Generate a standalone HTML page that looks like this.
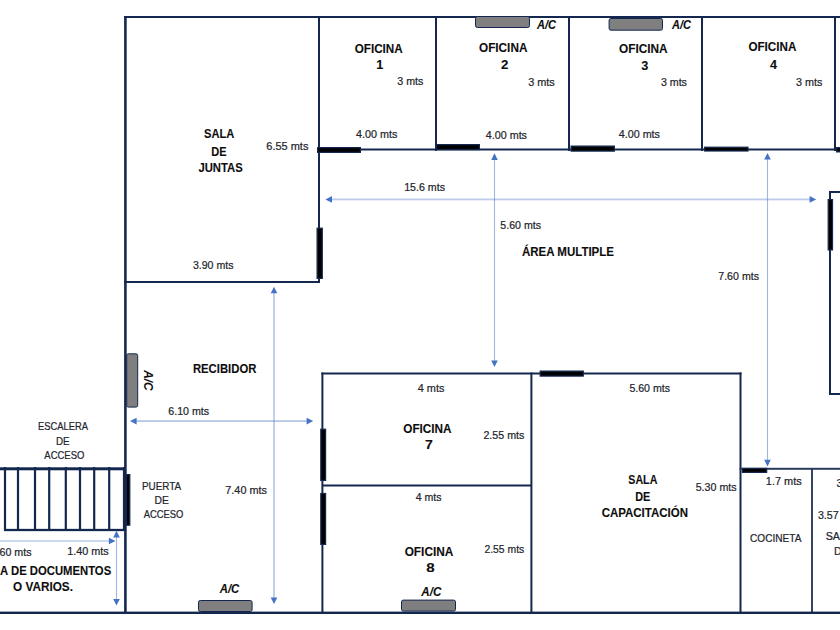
<!DOCTYPE html>
<html><head><meta charset="utf-8"><style>
html,body{margin:0;padding:0;background:#fff;width:840px;height:630px;overflow:hidden}
svg{display:block;position:absolute;left:0;top:0}
text{font-family:"Liberation Sans",sans-serif}
</style></head><body>
<svg width="840" height="630" viewBox="0 0 840 630">
<rect x="0" y="0" width="840" height="630" fill="#fff"/>
<rect x="124.00" y="16.00" width="716.00" height="2.00" fill="#14284f" />
<rect x="124.10" y="16.00" width="2.60" height="598.00" fill="#14284f" />
<rect x="318.00" y="16.00" width="2.00" height="267.00" fill="#14284f" />
<rect x="124.00" y="281.00" width="196.00" height="2.00" fill="#14284f" />
<rect x="435.00" y="16.00" width="2.00" height="135.00" fill="#14284f" />
<rect x="568.00" y="16.00" width="2.00" height="135.00" fill="#14284f" />
<rect x="701.00" y="16.00" width="2.00" height="135.00" fill="#14284f" />
<rect x="834.00" y="16.00" width="2.00" height="135.00" fill="#14284f" />
<rect x="318.00" y="148.50" width="522.00" height="2.00" fill="#14284f" />
<rect x="829.00" y="191.00" width="2.00" height="204.00" fill="#14284f" />
<rect x="829.00" y="191.00" width="11.00" height="2.00" fill="#14284f" />
<rect x="829.00" y="393.00" width="11.00" height="2.00" fill="#14284f" />
<rect x="321.40" y="372.50" width="2.00" height="241.50" fill="#14284f" />
<rect x="321.40" y="372.50" width="420.10" height="2.00" fill="#14284f" />
<rect x="322.00" y="484.50" width="210.00" height="2.00" fill="#14284f" />
<rect x="530.40" y="372.50" width="2.00" height="241.50" fill="#14284f" />
<rect x="739.50" y="372.50" width="2.00" height="241.50" fill="#14284f" />
<rect x="739.60" y="467.80" width="100.40" height="2.00" fill="#2a3b5e" />
<rect x="811.05" y="468.00" width="1.90" height="146.00" fill="#2a3b5e" />
<rect x="0.00" y="611.60" width="840.00" height="2.40" fill="#14284f" />
<rect x="0.00" y="467.30" width="125.00" height="3.00" fill="#14284f" />
<rect x="4.00" y="528.85" width="121.00" height="2.30" fill="#14284f" />
<rect x="122.90" y="467.00" width="2.20" height="64.00" fill="#14284f" />
<rect x="3.90" y="467.00" width="2.20" height="64.00" fill="#14284f" />
<rect x="16.90" y="467.00" width="2.20" height="64.00" fill="#14284f" />
<rect x="33.90" y="467.00" width="2.20" height="64.00" fill="#14284f" />
<rect x="48.10" y="467.00" width="2.20" height="64.00" fill="#14284f" />
<rect x="64.70" y="467.00" width="2.20" height="64.00" fill="#14284f" />
<rect x="78.90" y="467.00" width="2.20" height="64.00" fill="#14284f" />
<rect x="93.10" y="467.00" width="2.20" height="64.00" fill="#14284f" />
<rect x="108.10" y="467.00" width="2.20" height="64.00" fill="#14284f" />
<rect x="317.60" y="147.60" width="42.80" height="4.80" fill="#000" stroke="#14284f" stroke-width="1.2"/>
<rect x="436.60" y="144.60" width="42.80" height="5.00" fill="#000" stroke="#14284f" stroke-width="1.2"/>
<rect x="571.10" y="146.10" width="43.30" height="5.00" fill="#000" stroke="#14284f" stroke-width="1.2"/>
<rect x="704.60" y="147.20" width="43.40" height="3.80" fill="#000" stroke="#14284f" stroke-width="1.2"/>
<rect x="836.60" y="147.60" width="4.80" height="4.30" fill="#000" stroke="#14284f" stroke-width="1.2"/>
<rect x="317.10" y="228.20" width="5.20" height="50.20" fill="#000" stroke="#14284f" stroke-width="1.2"/>
<rect x="828.20" y="199.60" width="4.30" height="50.30" fill="#000" stroke="#14284f" stroke-width="1.2"/>
<rect x="320.80" y="429.20" width="4.80" height="51.20" fill="#000" stroke="#14284f" stroke-width="1.2"/>
<rect x="320.80" y="493.50" width="4.80" height="50.90" fill="#000" stroke="#14284f" stroke-width="1.2"/>
<rect x="540.20" y="371.10" width="43.10" height="5.00" fill="#000" stroke="#14284f" stroke-width="1.2"/>
<rect x="742.40" y="468.40" width="24.30" height="4.00" fill="#000" stroke="#14284f" stroke-width="1.2"/>
<rect x="126.40" y="474.60" width="3.40" height="50.60" fill="#000" stroke="#14284f" stroke-width="1.2"/>
<rect x="475.50" y="16.50" width="54.00" height="11.00" rx="1.8" fill="#7f7f7f" stroke="#14284f" stroke-width="1"/>
<rect x="609.10" y="18.50" width="53.40" height="11.70" rx="1.8" fill="#7f7f7f" stroke="#14284f" stroke-width="1"/>
<rect x="126.70" y="353.80" width="11.00" height="53.30" rx="1.8" fill="#7f7f7f" stroke="#14284f" stroke-width="1"/>
<rect x="198.50" y="600.50" width="53.60" height="11.00" rx="1.8" fill="#7f7f7f" stroke="#14284f" stroke-width="1"/>
<rect x="401.50" y="600.10" width="54.00" height="11.00" rx="1.8" fill="#7f7f7f" stroke="#14284f" stroke-width="1"/>
<rect x="330.40" y="198.50" width="480.80" height="1.8" fill="#4472c4" opacity="0.36"/>
<polygon points="325.40,199.40 332.00,196.10 332.00,202.70" fill="#4472c4"/>
<polygon points="816.20,199.40 809.60,196.10 809.60,202.70" fill="#4472c4"/>
<rect x="493.95" y="158.30" width="1.1" height="203.70" fill="#4472c4" opacity="0.5"/>
<polygon points="494.50,153.30 491.20,159.90 497.80,159.90" fill="#4472c4"/>
<polygon points="494.50,367.00 491.20,360.40 497.80,360.40" fill="#4472c4"/>
<rect x="766.95" y="158.00" width="1.1" height="303.40" fill="#4472c4" opacity="0.5"/>
<polygon points="767.50,153.00 764.20,159.60 770.80,159.60" fill="#4472c4"/>
<polygon points="767.50,466.40 764.20,459.80 770.80,459.80" fill="#4472c4"/>
<rect x="273.00" y="291.70" width="2.0" height="307.30" fill="#4472c4" opacity="0.33"/>
<polygon points="274.00,286.70 270.70,293.30 277.30,293.30" fill="#4472c4"/>
<polygon points="274.00,604.00 270.70,597.40 277.30,597.40" fill="#4472c4"/>
<rect x="135.00" y="420.20" width="173.20" height="1.8" fill="#4472c4" opacity="0.4"/>
<polygon points="130.00,421.10 136.60,417.80 136.60,424.40" fill="#4472c4"/>
<polygon points="313.20,421.10 306.60,417.80 306.60,424.40" fill="#4472c4"/>
<rect x="-10.00" y="540.10" width="120.50" height="1.8" fill="#4472c4" opacity="0.3"/>
<polygon points="115.50,541.00 108.90,537.70 108.90,544.30" fill="#4472c4"/>
<rect x="115.95" y="535.80" width="1.1" height="64.70" fill="#4472c4" opacity="0.5"/>
<polygon points="116.50,530.80 113.20,537.40 119.80,537.40" fill="#4472c4"/>
<polygon points="116.50,605.50 113.20,598.90 119.80,598.90" fill="#4472c4"/>
<text id="t0" x="354.67" y="52.78" font-size="12.30" font-weight="bold" font-style="normal" fill="#0d0d0d" stroke="#0d0d0d" stroke-width="0.1" textLength="48.08" lengthAdjust="spacingAndGlyphs">OFICINA</text>
<text id="t1" x="376.19" y="69.39" font-size="12.30" font-weight="bold" font-style="normal" fill="#0d0d0d" stroke="#0d0d0d" stroke-width="0.1" textLength="7.06" lengthAdjust="spacingAndGlyphs">1</text>
<text id="t2" x="397.31" y="85.22" font-size="11.50" font-weight="normal" font-style="normal" fill="#22232b" stroke="#22232b" stroke-width="0.22" textLength="26.08" lengthAdjust="spacingAndGlyphs">3 mts</text>
<text id="t3" x="356.00" y="138.03" font-size="11.50" font-weight="normal" font-style="normal" fill="#22232b" stroke="#22232b" stroke-width="0.22" textLength="41.33" lengthAdjust="spacingAndGlyphs">4.00 mts</text>
<text id="t4" x="479.00" y="51.61" font-size="12.30" font-weight="bold" font-style="normal" fill="#0d0d0d" stroke="#0d0d0d" stroke-width="0.1" textLength="48.39" lengthAdjust="spacingAndGlyphs">OFICINA</text>
<text id="t5" x="501.00" y="69.00" font-size="12.30" font-weight="bold" font-style="normal" fill="#0d0d0d" stroke="#0d0d0d" stroke-width="0.1" textLength="7.36" lengthAdjust="spacingAndGlyphs">2</text>
<text id="t6" x="528.14" y="85.78" font-size="11.50" font-weight="normal" font-style="normal" fill="#22232b" stroke="#22232b" stroke-width="0.22" textLength="26.64" lengthAdjust="spacingAndGlyphs">3 mts</text>
<text id="t7" x="485.75" y="138.78" font-size="11.50" font-weight="normal" font-style="normal" fill="#22232b" stroke="#22232b" stroke-width="0.22" textLength="41.25" lengthAdjust="spacingAndGlyphs">4.00 mts</text>
<text id="t8" x="619.00" y="52.78" font-size="12.30" font-weight="bold" font-style="normal" fill="#0d0d0d" stroke="#0d0d0d" stroke-width="0.1" textLength="48.58" lengthAdjust="spacingAndGlyphs">OFICINA</text>
<text id="t9" x="641.31" y="70.36" font-size="12.30" font-weight="bold" font-style="normal" fill="#0d0d0d" stroke="#0d0d0d" stroke-width="0.1" textLength="7.05" lengthAdjust="spacingAndGlyphs">3</text>
<text id="t10" x="660.89" y="85.61" font-size="11.50" font-weight="normal" font-style="normal" fill="#22232b" stroke="#22232b" stroke-width="0.22" textLength="26.08" lengthAdjust="spacingAndGlyphs">3 mts</text>
<text id="t11" x="618.78" y="138.25" font-size="11.50" font-weight="normal" font-style="normal" fill="#22232b" stroke="#22232b" stroke-width="0.22" textLength="41.22" lengthAdjust="spacingAndGlyphs">4.00 mts</text>
<text id="t12" x="748.39" y="51.39" font-size="12.30" font-weight="bold" font-style="normal" fill="#0d0d0d" stroke="#0d0d0d" stroke-width="0.1" textLength="47.94" lengthAdjust="spacingAndGlyphs">OFICINA</text>
<text id="t13" x="770.00" y="69.39" font-size="12.30" font-weight="bold" font-style="normal" fill="#0d0d0d" stroke="#0d0d0d" stroke-width="0.1" textLength="7.03" lengthAdjust="spacingAndGlyphs">4</text>
<text id="t14" x="796.03" y="85.78" font-size="11.50" font-weight="normal" font-style="normal" fill="#22232b" stroke="#22232b" stroke-width="0.22" textLength="26.36" lengthAdjust="spacingAndGlyphs">3 mts</text>
<text id="t15" x="204.06" y="138.39" font-size="12.30" font-weight="bold" font-style="normal" fill="#0d0d0d" stroke="#0d0d0d" stroke-width="0.1" textLength="30.30" lengthAdjust="spacingAndGlyphs">SALA</text>
<text id="t16" x="211.31" y="155.64" font-size="12.30" font-weight="bold" font-style="normal" fill="#0d0d0d" stroke="#0d0d0d" stroke-width="0.1" textLength="15.30" lengthAdjust="spacingAndGlyphs">DE</text>
<text id="t17" x="198.39" y="172.00" font-size="12.30" font-weight="bold" font-style="normal" fill="#0d0d0d" stroke="#0d0d0d" stroke-width="0.1" textLength="44.36" lengthAdjust="spacingAndGlyphs">JUNTAS</text>
<text id="t18" x="266.31" y="150.00" font-size="11.50" font-weight="normal" font-style="normal" fill="#22232b" stroke="#22232b" stroke-width="0.22" textLength="42.08" lengthAdjust="spacingAndGlyphs">6.55 mts</text>
<text id="t19" x="192.89" y="268.73" font-size="11.50" font-weight="normal" font-style="normal" fill="#22232b" stroke="#22232b" stroke-width="0.22" textLength="40.63" lengthAdjust="spacingAndGlyphs">3.90 mts</text>
<text id="t20" x="404.17" y="190.64" font-size="11.50" font-weight="normal" font-style="normal" fill="#22232b" stroke="#22232b" stroke-width="0.22" textLength="40.83" lengthAdjust="spacingAndGlyphs">15.6 mts</text>
<text id="t21" x="500.31" y="229.25" font-size="11.50" font-weight="normal" font-style="normal" fill="#22232b" stroke="#22232b" stroke-width="0.22" textLength="40.66" lengthAdjust="spacingAndGlyphs">5.60 mts</text>
<text id="t22" x="522.03" y="255.61" font-size="12.30" font-weight="bold" font-style="normal" fill="#0d0d0d" stroke="#0d0d0d" stroke-width="0.1" textLength="91.97" lengthAdjust="spacingAndGlyphs">ÁREA MULTIPLE</text>
<text id="t23" x="718.28" y="280.25" font-size="11.50" font-weight="normal" font-style="normal" fill="#22232b" stroke="#22232b" stroke-width="0.22" textLength="40.72" lengthAdjust="spacingAndGlyphs">7.60 mts</text>
<text id="t24" x="192.92" y="372.64" font-size="12.30" font-weight="bold" font-style="normal" fill="#0d0d0d" stroke="#0d0d0d" stroke-width="0.1" textLength="63.47" lengthAdjust="spacingAndGlyphs">RECIBIDOR</text>
<text id="t25" x="168.31" y="414.61" font-size="11.50" font-weight="normal" font-style="normal" fill="#22232b" stroke="#22232b" stroke-width="0.22" textLength="40.69" lengthAdjust="spacingAndGlyphs">6.10 mts</text>
<text id="t26" x="38.06" y="430.39" font-size="11.50" font-weight="normal" font-style="normal" fill="#22232b" stroke="#22232b" stroke-width="0.22" textLength="49.97" lengthAdjust="spacingAndGlyphs">ESCALERA</text>
<text id="t27" x="55.92" y="444.67" font-size="11.50" font-weight="normal" font-style="normal" fill="#22232b" stroke="#22232b" stroke-width="0.22" textLength="13.69" lengthAdjust="spacingAndGlyphs">DE</text>
<text id="t28" x="44.36" y="458.64" font-size="11.50" font-weight="normal" font-style="normal" fill="#22232b" stroke="#22232b" stroke-width="0.22" textLength="40.00" lengthAdjust="spacingAndGlyphs">ACCESO</text>
<text id="t29" x="141.95" y="489.61" font-size="11.50" font-weight="normal" font-style="normal" fill="#22232b" stroke="#22232b" stroke-width="0.22" textLength="39.16" lengthAdjust="spacingAndGlyphs">PUERTA</text>
<text id="t30" x="154.59" y="503.78" font-size="11.50" font-weight="normal" font-style="normal" fill="#22232b" stroke="#22232b" stroke-width="0.22" textLength="14.35" lengthAdjust="spacingAndGlyphs">DE</text>
<text id="t31" x="143.64" y="518.03" font-size="11.50" font-weight="normal" font-style="normal" fill="#22232b" stroke="#22232b" stroke-width="0.22" textLength="39.72" lengthAdjust="spacingAndGlyphs">ACCESO</text>
<text id="t32" x="225.31" y="494.39" font-size="11.50" font-weight="normal" font-style="normal" fill="#22232b" stroke="#22232b" stroke-width="0.22" textLength="41.66" lengthAdjust="spacingAndGlyphs">7.40 mts</text>
<text id="t33" x="67.20" y="555.25" font-size="11.50" font-weight="normal" font-style="normal" fill="#22232b" stroke="#22232b" stroke-width="0.22" textLength="41.52" lengthAdjust="spacingAndGlyphs">1.40 mts</text>
<text id="t34" x="13.06" y="591.03" font-size="12.30" font-weight="bold" font-style="normal" fill="#0d0d0d" stroke="#0d0d0d" stroke-width="0.1" textLength="59.88" lengthAdjust="spacingAndGlyphs">O VARIOS.</text>
<text id="t35" x="417.75" y="391.61" font-size="11.50" font-weight="normal" font-style="normal" fill="#22232b" stroke="#22232b" stroke-width="0.22" textLength="26.61" lengthAdjust="spacingAndGlyphs">4 mts</text>
<text id="t36" x="403.31" y="433.00" font-size="12.30" font-weight="bold" font-style="normal" fill="#0d0d0d" stroke="#0d0d0d" stroke-width="0.1" textLength="48.30" lengthAdjust="spacingAndGlyphs">OFICINA</text>
<text id="t37" x="425.14" y="449.25" font-size="12.30" font-weight="bold" font-style="normal" fill="#0d0d0d" stroke="#0d0d0d" stroke-width="0.1" textLength="7.86" lengthAdjust="spacingAndGlyphs">7</text>
<text id="t38" x="483.39" y="439.25" font-size="11.50" font-weight="normal" font-style="normal" fill="#22232b" stroke="#22232b" stroke-width="0.22" textLength="40.97" lengthAdjust="spacingAndGlyphs">2.55 mts</text>
<text id="t39" x="415.78" y="501.03" font-size="11.50" font-weight="normal" font-style="normal" fill="#22232b" stroke="#22232b" stroke-width="0.22" textLength="25.80" lengthAdjust="spacingAndGlyphs">4 mts</text>
<text id="t40" x="404.67" y="556.00" font-size="12.30" font-weight="bold" font-style="normal" fill="#0d0d0d" stroke="#0d0d0d" stroke-width="0.1" textLength="48.72" lengthAdjust="spacingAndGlyphs">OFICINA</text>
<text id="t41" x="426.31" y="572.36" font-size="12.30" font-weight="bold" font-style="normal" fill="#0d0d0d" stroke="#0d0d0d" stroke-width="0.1" textLength="8.41" lengthAdjust="spacingAndGlyphs">8</text>
<text id="t42" x="484.42" y="552.67" font-size="11.50" font-weight="normal" font-style="normal" fill="#22232b" stroke="#22232b" stroke-width="0.22" textLength="39.80" lengthAdjust="spacingAndGlyphs">2.55 mts</text>
<text id="t43" x="629.42" y="391.61" font-size="11.50" font-weight="normal" font-style="normal" fill="#22232b" stroke="#22232b" stroke-width="0.22" textLength="40.58" lengthAdjust="spacingAndGlyphs">5.60 mts</text>
<text id="t44" x="628.31" y="483.67" font-size="12.30" font-weight="bold" font-style="normal" fill="#0d0d0d" stroke="#0d0d0d" stroke-width="0.1" textLength="29.05" lengthAdjust="spacingAndGlyphs">SALA</text>
<text id="t45" x="635.28" y="501.03" font-size="12.30" font-weight="bold" font-style="normal" fill="#0d0d0d" stroke="#0d0d0d" stroke-width="0.1" textLength="15.11" lengthAdjust="spacingAndGlyphs">DE</text>
<text id="t46" x="601.64" y="517.22" font-size="12.30" font-weight="bold" font-style="normal" fill="#0d0d0d" stroke="#0d0d0d" stroke-width="0.1" textLength="86.36" lengthAdjust="spacingAndGlyphs">CAPACITACIÓN</text>
<text id="t47" x="695.67" y="490.64" font-size="11.50" font-weight="normal" font-style="normal" fill="#22232b" stroke="#22232b" stroke-width="0.22" textLength="40.91" lengthAdjust="spacingAndGlyphs">5.30 mts</text>
<text id="t48" x="765.81" y="484.64" font-size="11.50" font-weight="normal" font-style="normal" fill="#22232b" stroke="#22232b" stroke-width="0.22" textLength="35.91" lengthAdjust="spacingAndGlyphs">1.7 mts</text>
<text id="t49" x="750.00" y="541.67" font-size="11.50" font-weight="normal" font-style="normal" fill="#22232b" stroke="#22232b" stroke-width="0.22" textLength="51.42" lengthAdjust="spacingAndGlyphs">COCINETA</text>
<text id="t50" x="537.00" y="28.53" font-size="12.30" font-weight="bold" font-style="italic" fill="#0d0d0d" stroke="#0d0d0d" stroke-width="0.1" textLength="19.00" lengthAdjust="spacingAndGlyphs">A/C</text>
<text id="t51" x="672.00" y="28.78" font-size="12.30" font-weight="bold" font-style="italic" fill="#0d0d0d" stroke="#0d0d0d" stroke-width="0.1" textLength="18.92" lengthAdjust="spacingAndGlyphs">A/C</text>
<text id="t52" x="219.75" y="592.89" font-size="12.30" font-weight="bold" font-style="italic" fill="#0d0d0d" stroke="#0d0d0d" stroke-width="0.1" textLength="19.50" lengthAdjust="spacingAndGlyphs">A/C</text>
<text id="t53" x="421.33" y="595.50" font-size="12.30" font-weight="bold" font-style="italic" fill="#0d0d0d" stroke="#0d0d0d" stroke-width="0.1" textLength="19.95" lengthAdjust="spacingAndGlyphs">A/C</text>
<text x="0" y="0" transform="translate(31.50,555.50) scale(0.93,1)" text-anchor="end" font-size="11.50" font-weight="normal" fill="#22232b" stroke="#22232b" stroke-width="0.22">1.60 mts</text>
<text x="0" y="0" transform="translate(111.20,575.20) scale(0.92,1)" text-anchor="end" font-size="12.30" font-weight="bold" fill="#0d0d0d" stroke="#0d0d0d" stroke-width="0.1">ÁREA DE DOCUMENTOS</text>
<text x="0" y="0" transform="translate(836.40,487.00) scale(0.93,1)" text-anchor="start" font-size="11.50" font-weight="normal" fill="#22232b" stroke="#22232b" stroke-width="0.22">3.00</text>
<text x="0" y="0" transform="translate(817.90,518.80) scale(0.93,1)" text-anchor="start" font-size="11.50" font-weight="normal" fill="#22232b" stroke="#22232b" stroke-width="0.22">3.57 mts</text>
<text x="0" y="0" transform="translate(825.70,539.50) scale(0.93,1)" text-anchor="start" font-size="11.50" font-weight="normal" fill="#22232b" stroke="#22232b" stroke-width="0.22">SALA</text>
<text x="0" y="0" transform="translate(834.00,555.00) scale(0.93,1)" text-anchor="start" font-size="11.50" font-weight="normal" fill="#22232b" stroke="#22232b" stroke-width="0.22">DE</text>
<text x="0" y="0" transform="translate(144.30,370.20) rotate(90)" font-size="12.20" font-weight="bold" font-style="italic" fill="#0d0d0d" textLength="20.40" lengthAdjust="spacingAndGlyphs">A/C</text>
</svg>
</body></html>
